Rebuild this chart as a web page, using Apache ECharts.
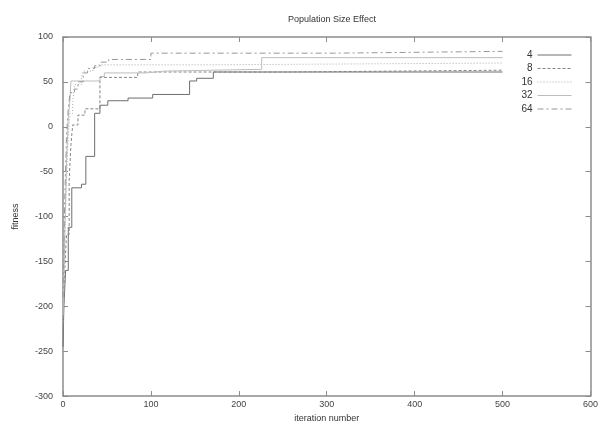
<!DOCTYPE html>
<html>
<head>
<meta charset="utf-8">
<script src="https://cdn.jsdelivr.net/npm/echarts@6/dist/echarts.min.js"></script>
<style>
  html, body { margin: 0; padding: 0; background: #fff; }
  #chart { width: 601px; height: 428px; }
</style>
</head>
<body>
<div id="chart"></div>
<script>
// change points of each run: from iter x on, best fitness is y
const iters4 = [0, 1, 3, 6, 10, 21, 26, 36, 42, 51, 74, 102, 144, 152, 171, 500]
const fit4   = [-245, -200, -160, -112, -68, -64, -33, 15, 24, 29, 32, 36, 51, 54, 61, 61]

const iters8 = [0, 2, 4, 7, 9, 11, 17, 25, 42, 85, 252, 500]
const fit8   = [-230, -160, -120, -60, -20, 2, 13, 20, 55, 61, 63, 63]

const iters16 = [0, 2, 4, 6, 8, 11, 13, 21, 23, 34, 40, 163, 500]
const fit16   = [-220, -130, -60, -10, 15, 26, 47, 55, 62, 66, 69, 71, 71]

const iters32 = [0, 2, 4, 6, 8, 9, 42, 47, 95, 115, 226, 500]
const fit32   = [-210, -120, -40, 10, 30, 51, 56, 60, 62, 64, 77, 77]

const iters64 = [0, 2, 4, 6, 8, 13, 17, 23, 28, 36, 43, 52, 100, 309, 500]
const fit64   = [-190, -80, -10, 20, 38, 42, 50, 60, 65, 68, 72, 75, 82, 84, 84]

const names = ['4', '8', '16', '32', '64']
const runs = [[iters4, fit4], [iters8, fit8], [iters16, fit16], [iters32, fit32], [iters64, fit64]]
const colors = ['#6e6e6e', '#858585', '#a8a8a8', '#bdbdbd', '#979797']
const dashes = ['solid', [3, 2], [1, 2], 'solid', [6, 3, 2, 3]]

const font = 'Liberation Sans, Arial, sans-serif'

let chart = echarts.init(document.getElementById('chart'))

let series = runs.map((r, i) => {
    return {
        name: names[i],
        type: 'line',
        step: 'end',
        symbol: 'none',
        data: r[0].map((x, j) => [x, r[1][j]]),
        lineStyle: { color: colors[i], width: 1, type: dashes[i] },
        itemStyle: { color: colors[i] }
    }
})

const frameColor = '#8c8c8c'
let tickAxis = {
    axisLine: { show: true, onZero: false, lineStyle: { color: frameColor, width: 1.5 } },
    axisTick: { show: true, inside: true, length: 5, lineStyle: { color: frameColor } },
    splitLine: { show: false }
}

let option = {
    animation: false,
    title: {
        text: 'Population Size Effect',
        left: 327, top: 10, textAlign: 'center',
        textStyle: { fontFamily: font, fontSize: 9, fontWeight: 'normal', color: '#333' }
    },
    grid: { left: 63, right: 10, top: 37, bottom: 26 },
    legend: {
        orient: 'vertical',
        right: 24, top: 45,
        align: 'right',
        itemWidth: 34, itemHeight: 8, itemGap: 3.5,
        data: names,
        itemStyle: { opacity: 0 },
        lineStyle: { width: 1 },
        textStyle: { fontFamily: font, fontSize: 10, color: '#333', padding: [0, 0, 0, 0] }
    },
    xAxis: [
        Object.assign({
            type: 'value', min: 0, max: 600, interval: 100,
            name: 'iteration number', nameLocation: 'middle', nameGap: 16,
            nameTextStyle: { fontFamily: font, fontSize: 9, color: '#333' },
            axisLabel: { fontFamily: font, fontSize: 9, color: '#444', margin: 4 }
        }, tickAxis),
        Object.assign({
            type: 'value', min: 0, max: 600, interval: 100, position: 'top',
            axisLabel: { show: false }
        }, tickAxis)
    ],
    yAxis: [
        Object.assign({
            type: 'value', min: -300, max: 100, interval: 50,
            name: 'fitness', nameLocation: 'middle', nameGap: 43, nameRotate: 90,
            nameTextStyle: { fontFamily: font, fontSize: 9, color: '#333' },
            axisLabel: { fontFamily: font, fontSize: 9, color: '#444', margin: 10 }
        }, tickAxis),
        Object.assign({
            type: 'value', min: -300, max: 100, interval: 50, position: 'right',
            axisLabel: { show: false }
        }, tickAxis)
    ],
    series: series
}

chart.setOption(option)
</script>
</body>
</html>
